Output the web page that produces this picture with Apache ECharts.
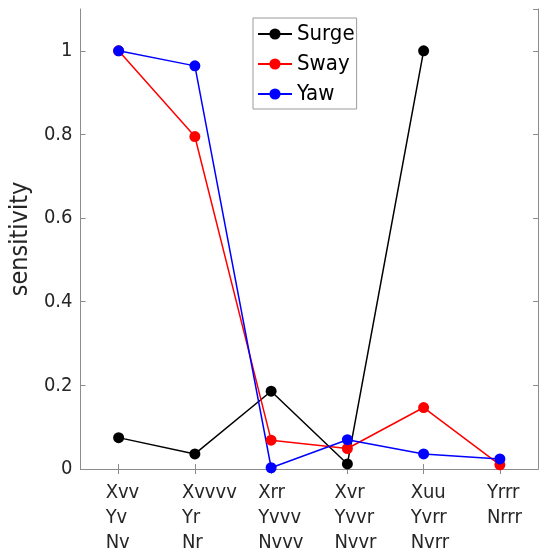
<!DOCTYPE html>
<html>
<head>
<meta charset="utf-8">
<script src="https://cdn.jsdelivr.net/npm/echarts@6/dist/echarts.min.js"></script>
<style>html,body{margin:0;padding:0;background:#fff;}#chart{width:539px;height:555px;}</style>
</head>
<body>
<div id="chart"></div>
<script>
const categories = ['Xvv\nYv\nNv', 'Xvvvv\nYr\nNr', 'Xrr\nYvvv\nNvvv', 'Xvr\nYvvr\nNvvr', 'Xuu\nYvrr\nNvrr', 'Yrrr\nNrrr'];
const surge = [0.075, 0.036, 0.186, 0.012, 1.0, null];
const sway  = [1.0, 0.795, 0.069, 0.049, 0.147, 0.01];
const yaw   = [1.0, 0.964, 0.003, 0.070, 0.036, 0.024];
const seriesNames = ['Surge', 'Sway', 'Yaw'];
const yName = 'sensitivity';

const FONT = "'DejaVu Sans Condensed', 'Liberation Sans', sans-serif";
const axisGray = '#8c8c8c';
const textCol = '#262626';

const chart = echarts.init(document.getElementById('chart'), null, {renderer: 'canvas'});

function mkSeries(name, data, color) {
  return {
    name: name, type: 'line', data: data,
    xAxisIndex: 0, yAxisIndex: 0,
    symbol: 'circle', symbolSize: 11,
    lineStyle: {color: color, width: 1.5},
    itemStyle: {color: color},
    connectNulls: false,
    animation: false
  };
}

const option = {
  animation: false,
  backgroundColor: '#fff',
  grid: {left: 73, right: 1, top: 9, bottom: 83, containLabel: false},
  legend: {
    data: seriesNames,
    left: 253, top: 18,
    orient: 'vertical',
    backgroundColor: '#fff',
    borderColor: '#9a9a9a', borderWidth: 1,
    padding: [4, 2, 3, 4],
    itemWidth: 34, itemHeight: 14, itemGap: 6,
    textStyle: {fontFamily: FONT, fontSize: 22, color: '#000', lineHeight: 24}
  },
  xAxis: [
    {
      type: 'category', data: categories, position: 'bottom', boundaryGap: true,
      axisLine: {show: true, lineStyle: {color: axisGray, width: 1}},
      axisTick: {show: true, inside: true, alignWithLabel: true, length: 5, lineStyle: {color: axisGray}},
      axisLabel: {
        show: true, interval: 0, align: 'left', margin: 11,
        padding: [0, 0, 0, -13],
        fontFamily: FONT, fontSize: 20, color: textCol, lineHeight: 25
      },
      splitLine: {show: false}
    },
    {
      type: 'category', data: categories, position: 'top', boundaryGap: true,
      axisLine: {show: true, lineStyle: {color: axisGray, width: 1}},
      axisTick: {show: true, inside: true, alignWithLabel: true, length: 5, lineStyle: {color: axisGray}},
      axisLabel: {show: false},
      splitLine: {show: false}
    }
  ],
  yAxis: [
    {
      type: 'value', min: 0, max: 1.1, interval: 0.2, position: 'left',
      name: yName, nameLocation: 'middle', nameGap: 42, nameRotate: 90,
      nameTextStyle: {fontFamily: FONT, fontSize: 25, color: textCol},
      axisLine: {show: true, lineStyle: {color: axisGray, width: 1}},
      axisTick: {show: true, inside: true, length: 5, lineStyle: {color: axisGray}},
      axisLabel: {show: true, showMaxLabel: false, margin: 8, fontFamily: FONT, fontSize: 20, color: textCol},
      splitLine: {show: false}
    },
    {
      type: 'value', min: 0, max: 1.1, interval: 0.2, position: 'right',
      axisLine: {show: true, lineStyle: {color: axisGray, width: 1}},
      axisTick: {show: true, inside: true, length: 5, lineStyle: {color: axisGray}},
      axisLabel: {show: false},
      splitLine: {show: false}
    }
  ],
  series: [
    mkSeries(seriesNames[0], surge, '#000000'),
    mkSeries(seriesNames[1], sway, '#ff0000'),
    mkSeries(seriesNames[2], yaw, '#0000ff')
  ]
};
chart.setOption(option);
</script>
</body>
</html>
